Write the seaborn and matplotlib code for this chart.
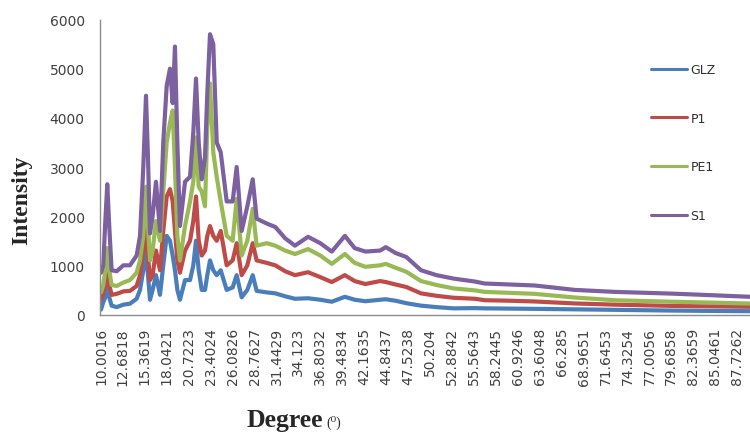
import matplotlib
matplotlib.use("Agg")
import matplotlib.pyplot as plt
import pandas as pd
import seaborn as sns

# 2-theta positions (degrees) and intensities of the four diffraction patterns
two_theta = [10.00, 10.28, 10.53, 10.77, 11.01, 11.30, 11.92, 12.73, 13.54, 14.36,
             14.77, 15.17, 15.50, 15.74, 15.99, 16.31, 16.72, 17.21, 17.61, 18.03,
             18.43, 18.76, 19.04, 19.33, 19.65, 20.27, 20.88, 21.28, 21.61, 21.94,
             22.31, 22.71, 22.99, 23.32, 23.72, 24.14, 24.63, 25.36, 26.09, 26.58,
             27.19, 27.88, 28.54, 29.02, 30.25, 31.30, 32.50, 33.70, 35.30, 36.80,
             38.20, 39.80, 41.00, 42.30, 44.10, 44.80, 46.00, 47.30, 49.10, 51.00,
             53.10, 55.70, 56.90, 60.00, 63.00, 67.90, 72.80, 79.70, 85.00, 90.00]

glz = [100, 250, 350, 600, 350, 180, 150, 200, 220, 320,
       500, 900, 1300, 800, 300, 500, 800, 400, 1000, 1600,
       1500, 1200, 900, 500, 300, 700, 700, 1000, 1500, 900,
       500, 500, 800, 1100, 900, 800, 900, 500, 550, 800,
       350, 500, 800, 480, 450, 430, 370, 320, 330, 300,
       260, 360, 300, 270, 300, 310, 280, 230, 180, 150,
       125, 130, 125, 120, 115, 105, 95, 80, 72, 67]

p1 = [300, 450, 600, 950, 600, 400, 420, 470, 480, 580,
      800, 1300, 1950, 1200, 700, 800, 1300, 900, 1700, 2400,
      2550, 2300, 1700, 1100, 850, 1300, 1500, 1900, 2400, 1500,
      1200, 1300, 1600, 1800, 1600, 1500, 1700, 1000, 1100, 1450,
      800, 1000, 1450, 1100, 1050, 1000, 880, 800, 860, 760,
      660, 800, 680, 620, 680, 660, 610, 560, 430, 380,
      340, 320, 290, 280, 265, 225, 200, 175, 165, 155]

pe1 = [450, 600, 900, 1350, 900, 600, 580, 650, 700, 850,
       1100, 1600, 2600, 1800, 1100, 1300, 1900, 1500, 2500, 3500,
       3900, 4150, 3000, 1600, 1100, 1800, 2300, 2700, 3600, 2600,
       2500, 2200, 3800, 4700, 3300, 2800, 2300, 1600, 1500, 2350,
       1200, 1500, 2150, 1400, 1450, 1400, 1300, 1230, 1330, 1200,
       1030, 1230, 1050, 970, 1000, 1030, 950, 870, 680, 600,
       530, 490, 460, 440, 420, 345, 290, 260, 240, 220]

s1 = [850, 1000, 1900, 2650, 1800, 900, 880, 1000, 1000, 1200,
      1600, 3000, 4450, 3200, 1650, 2000, 2700, 1700, 3500, 4650,
      5000, 4300, 5450, 3500, 1800, 2700, 2800, 3700, 4800, 3500,
      2750, 3200, 4500, 5700, 5500, 3500, 3300, 2300, 2300, 3000,
      1700, 2200, 2750, 1950, 1850, 1780, 1550, 1400, 1580, 1450,
      1280, 1600, 1350, 1280, 1300, 1370, 1250, 1170, 900, 800,
      730, 670, 630, 610, 590, 500, 460, 425, 390, 355]

sample_names = ["GLZ", "P1", "PE1", "S1"]
sample_values = [glz, p1, pe1, s1]
sample_colors = ["#4a7ebb", "#be4b48", "#98b954", "#7d60a0"]

x_tick_labels = ["10.0016", "12.6818", "15.3619", "18.0421", "20.7223", "23.4024",
                 "26.0826", "28.7627", "31.4429", "34.123", "36.8032", "39.4834",
                 "42.1635", "44.8437", "47.5238", "50.204", "52.8842", "55.5643",
                 "58.2445", "60.9246", "63.6048", "66.285", "68.9651", "71.6453",
                 "74.3254", "77.0056", "79.6858", "82.3659", "85.0461", "87.7262"]
y_ticks = [0, 1000, 2000, 3000, 4000, 5000, 6000]

frames = [pd.DataFrame({"two_theta": two_theta, "intensity": vals, "sample": name})
          for name, vals in zip(sample_names, sample_values)]
df = pd.concat(frames, ignore_index=True)

sns.set_style("white")
plt.rcParams["font.family"] = ["DejaVu Sans"]

fig = plt.figure(figsize=(7.5, 4.35), dpi=100)
ax = fig.add_axes([100 / 750, 119.5 / 435, 650 / 750, 295 / 435])

sns.lineplot(data=df, x="two_theta", y="intensity", hue="sample",
             hue_order=sample_names, palette=dict(zip(sample_names, sample_colors)),
             estimator=None, sort=False, linewidth=3.0, ax=ax)

ax.set_xlim(9.88, 89.3)
ax.set_ylim(0, 6000)
ax.set_yticks(y_ticks)
ax.set_yticklabels([str(v) for v in y_ticks], fontsize=10, color="#404040")
ax.set_xticks([float(t) for t in x_tick_labels])
ax.set_xticklabels(x_tick_labels, rotation=90, fontsize=10, color="#404040")
ax.tick_params(axis="both", length=0)
ax.tick_params(axis="y", pad=11)
ax.tick_params(axis="x", pad=9)
ax.set_xlabel("")
ax.set_ylabel("")

for side in ("top", "right"):
    ax.spines[side].set_visible(False)
for side in ("left", "bottom"):
    ax.spines[side].set_color("#8c8c8c")
    ax.spines[side].set_linewidth(1.0)

handles, labels = ax.get_legend_handles_labels()
if ax.get_legend() is not None:
    ax.get_legend().remove()
leg = ax.legend(handles, labels, loc="upper left",
                bbox_to_anchor=(651 / 750, 1 - 64 / 435), bbox_transform=fig.transFigure,
                frameon=False, fontsize=9, borderpad=0, borderaxespad=0,
                handlelength=2.9, handletextpad=0.25, labelspacing=2.85)
for line in leg.get_lines():
    line.set_linewidth(2.2)
for txt in leg.get_texts():
    txt.set_color("#303030")

fig.text(22 / 750, 1 - 200 / 435, "Intensity", rotation=90, ha="center", va="center",
         fontsize=17, fontweight="bold", family=["Liberation Serif", "DejaVu Serif"])
deg = fig.text(247 / 750, 1 - 427 / 435, "Degree", ha="left", va="baseline",
               fontsize=18.5, fontweight="bold", family=["Liberation Serif", "DejaVu Serif"])
fig.canvas.draw()
bb = deg.get_window_extent()
fig.text((bb.x1 + 3) / 750, 1 - 427 / 435, "(\u2070)", ha="left", va="baseline",
         fontsize=10, family=["Liberation Serif", "DejaVu Serif"])

fig.savefig("out.png", dpi=100)
